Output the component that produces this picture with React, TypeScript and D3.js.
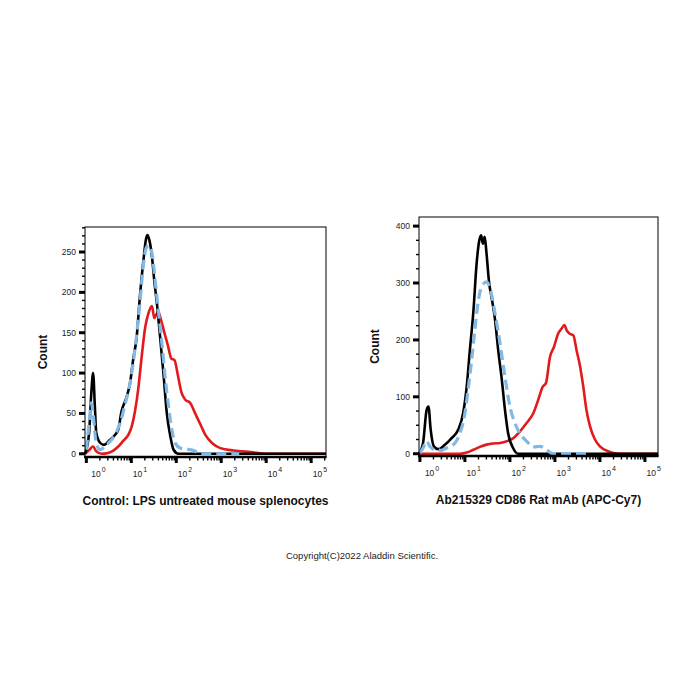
import React from 'react';
import * as d3 from 'd3';

// x values are log10 exponents of fluorescence intensity, y values are counts
const leftBlack: [number, number][] = [
  [-0.03, 0], [0.06, 25], [0.11, 75], [0.15, 100], [0.19, 58], [0.22, 26], [0.3, 14], [0.39, 11],
  [0.52, 17], [0.63, 23], [0.71, 30], [0.78, 52], [0.9, 71], [0.97, 87], [1.04, 116], [1.12, 145],
  [1.19, 194], [1.27, 240], [1.33, 267], [1.36, 271], [1.4, 265], [1.46, 244], [1.51, 215],
  [1.57, 186], [1.64, 145], [1.72, 96], [1.79, 50], [1.87, 21], [1.94, 5], [2.05, 0], [5.33, 0],
];
const leftBlue: [number, number][] = [
  [0.0, 5], [0.07, 42], [0.11, 63], [0.15, 50], [0.21, 17], [0.3, 5], [0.41, 9], [0.52, 15],
  [0.63, 23], [0.75, 38], [0.86, 61], [0.97, 87], [1.08, 129], [1.19, 186], [1.28, 240],
  [1.34, 256], [1.39, 258], [1.46, 248], [1.53, 215], [1.6, 178], [1.68, 137], [1.75, 96],
  [1.83, 58], [1.9, 30], [1.98, 13], [2.09, 7], [2.2, 6], [2.39, 4], [2.54, 0], [3.4, 0],
];
const leftRed: [number, number][] = [
  [-0.03, 0], [0.07, 5], [0.15, 9], [0.22, 3], [0.34, 0], [0.48, 1], [0.6, 4], [0.71, 9],
  [0.82, 16], [0.93, 23], [1.01, 34], [1.08, 52], [1.16, 83], [1.23, 120], [1.31, 157],
  [1.38, 174], [1.46, 183], [1.51, 168], [1.55, 172], [1.6, 176], [1.66, 166], [1.74, 149],
  [1.81, 135], [1.89, 118], [1.96, 116], [2.04, 96], [2.11, 77], [2.2, 67], [2.31, 63],
  [2.42, 50], [2.54, 36], [2.65, 23], [2.8, 13], [2.98, 7], [3.28, 4], [3.66, 2], [4.03, 0], [5.33, 0],
];

const rightBlack: [number, number][] = [
  [-0.02, 0], [0.07, 19], [0.15, 77], [0.19, 83], [0.24, 42], [0.31, 13], [0.41, 8], [0.56, 16],
  [0.7, 27], [0.85, 42], [0.96, 71], [1.04, 118], [1.11, 182], [1.19, 252], [1.26, 334],
  [1.32, 375], [1.36, 384], [1.4, 369], [1.44, 381], [1.48, 352], [1.54, 299], [1.59, 276],
  [1.67, 235], [1.74, 182], [1.82, 130], [1.89, 77], [1.96, 36], [2.07, 10], [2.18, 0], [5.29, 0],
];
const rightBlue: [number, number][] = [
  [0.0, 1], [0.07, 10], [0.15, 22], [0.22, 13], [0.33, 7], [0.48, 6], [0.63, 12], [0.78, 19],
  [0.89, 36], [1.0, 71], [1.07, 112], [1.15, 165], [1.22, 217], [1.3, 270], [1.37, 293],
  [1.48, 302], [1.57, 287], [1.67, 246], [1.78, 194], [1.89, 135], [2.0, 83], [2.11, 54],
  [2.22, 36], [2.37, 22], [2.52, 12], [2.67, 13], [2.81, 7], [2.96, 0], [3.8, 0],
];
const rightRed: [number, number][] = [
  [-0.02, 0], [0.89, 0], [1.04, 2], [1.19, 7], [1.33, 12], [1.48, 16], [1.63, 18], [1.78, 19],
  [1.93, 22], [2.07, 27], [2.22, 39], [2.37, 54], [2.52, 71], [2.63, 95], [2.73, 118],
  [2.8, 124], [2.89, 170], [2.98, 188], [3.07, 211], [3.15, 220], [3.21, 226], [3.26, 217],
  [3.33, 211], [3.41, 208], [3.48, 182], [3.56, 153], [3.63, 118], [3.7, 77], [3.78, 48],
  [3.89, 25], [4.0, 13], [4.19, 4], [4.44, 0], [5.29, 0],
];

const decades = [0, 1, 2, 3, 4, 5];
const leftYMajor = [0, 50, 100, 150, 200, 250];
const rightYMajor = [0, 100, 200, 300, 400];

const RED = '#e31a1c';
const BLUE = '#80b9e6';
const FONT = 'Arial, "Liberation Sans", sans-serif';

interface PanelProps {
  left: number;
  right: number;
  top: number;
  bottom: number;
  xExp: [number, number];
  yDomain: [number, number];
  yMajor: number[];
  yMinorStep: number;
  black: [number, number][];
  blue: [number, number][];
  red: [number, number][];
  title: string;
  countX: number;
}

const Panel: React.FC<PanelProps> = ({
  left, right, top, bottom, xExp, yDomain, yMajor, yMinorStep, black, blue, red, title, countX,
}) => {
  const x = d3.scaleLog().domain([10 ** xExp[0], 10 ** xExp[1]]).range([left, right]);
  const y = d3.scaleLinear().domain(yDomain).range([bottom, top]);

  const line = d3
    .line<[number, number]>()
    .x((d) => x(10 ** d[0]))
    .y((d) => y(d[1]))
    .curve(d3.curveMonotoneX);

  const yMinor = d3.range(0, yDomain[1], yMinorStep).filter((v) => !yMajor.includes(v));
  const xMinor: number[] = [];
  decades.forEach((k) => {
    for (let m = 2; m <= 9; m++) {
      const v = m * 10 ** k;
      if (v <= x.domain()[1]) xMinor.push(v);
    }
  });

  return (
    <g>
      {/* curves */}
      <path d={line(red) || ''} fill="none" stroke={RED} strokeWidth={2.6} strokeLinejoin="round" />
      <path d={line(black) || ''} fill="none" stroke="#000" strokeWidth={2.6} strokeLinejoin="round" />
      <path
        d={line(blue) || ''}
        fill="none"
        stroke={BLUE}
        strokeWidth={3.2}
        strokeDasharray="10,5"
        strokeLinejoin="round"
      />

      {/* frame */}
      <rect x={left} y={top} width={right - left} height={bottom - top} fill="none" stroke="#000" strokeWidth={1} />
      <line x1={left - 1} x2={right + 0.5} y1={bottom} y2={bottom} stroke="#000" strokeWidth={2.5} />

      {/* y ticks */}
      {yMinor.map((v) => (
        <line key={'ym' + v} x1={left - 3} x2={left} y1={y(v)} y2={y(v)} stroke="#000" strokeWidth={1.4} />
      ))}
      {yMajor.map((v) => (
        <g key={'yM' + v}>
          <line x1={left - 6} x2={left} y1={y(v)} y2={y(v)} stroke="#000" strokeWidth={3} />
          <text x={left - 9} y={y(v) + 3} textAnchor="end" fontSize={8.5} fontFamily={FONT} fill="#222">
            {v}
          </text>
        </g>
      ))}

      {/* x ticks */}
      {xMinor.map((v) => (
        <line key={'xm' + v} x1={x(v)} x2={x(v)} y1={bottom} y2={bottom + 3.5} stroke="#000" strokeWidth={1.4} />
      ))}
      {decades.map((k, i) => (
        <g key={'xM' + k}>
          <line x1={x(10 ** k)} x2={x(10 ** k)} y1={bottom} y2={bottom + 6} stroke="#000" strokeWidth={3} />
          <text x={x(10 ** k) + (i === 0 ? 5 : 1.5)} y={bottom + 20} fontSize={8.5} fontFamily={FONT} fill="#222">
            10
            <tspan dx={1} dy={-5} fontSize={7}>
              {k}
            </tspan>
          </text>
        </g>
      ))}

      {/* labels */}
      <text
        transform={`translate(${countX},${(top + bottom) / 2 + 10}) rotate(-90)`}
        textAnchor="middle"
        fontSize={12}
        fontWeight="bold"
        fontFamily={FONT}
        fill="#111"
      >
        Count
      </text>
      <text
        x={(left + right) / 2 + 0}
        y={bottom + 48}
        textAnchor="middle"
        fontSize={12}
        fontWeight="bold"
        fontFamily={FONT}
        fill="#111"
      >
        {title}
      </text>
    </g>
  );
};

export default function App() {
  return (
    <svg
      width={700}
      height={700}
      style={{ position: 'absolute', left: 0, top: 0, background: '#fff' }}
    >
      <rect width={700} height={700} fill="#fff" />
      <Panel
        left={85}
        right={326}
        top={227}
        bottom={457}
        xExp={[-0.03, 5.33]}
        yDomain={[-4, 281]}
        yMajor={leftYMajor}
        yMinorStep={10}
        black={leftBlack}
        blue={leftBlue}
        red={leftRed}
        title="Control: LPS untreated mouse splenocytes"
        countX={47}
      />
      <Panel
        left={419}
        right={658}
        top={217}
        bottom={456}
        xExp={[-0.02, 5.29]}
        yDomain={[-4, 416]}
        yMajor={rightYMajor}
        yMinorStep={25}
        black={rightBlack}
        blue={rightBlue}
        red={rightRed}
        title="Ab215329 CD86 Rat mAb (APC-Cy7)"
        countX={379}
      />
      <text x={362} y={559} textAnchor="middle" fontSize={9.5} fontFamily={FONT} fill="#222">
        Copyright(C)2022 Aladdin Scientific.
      </text>
    </svg>
  );
}
